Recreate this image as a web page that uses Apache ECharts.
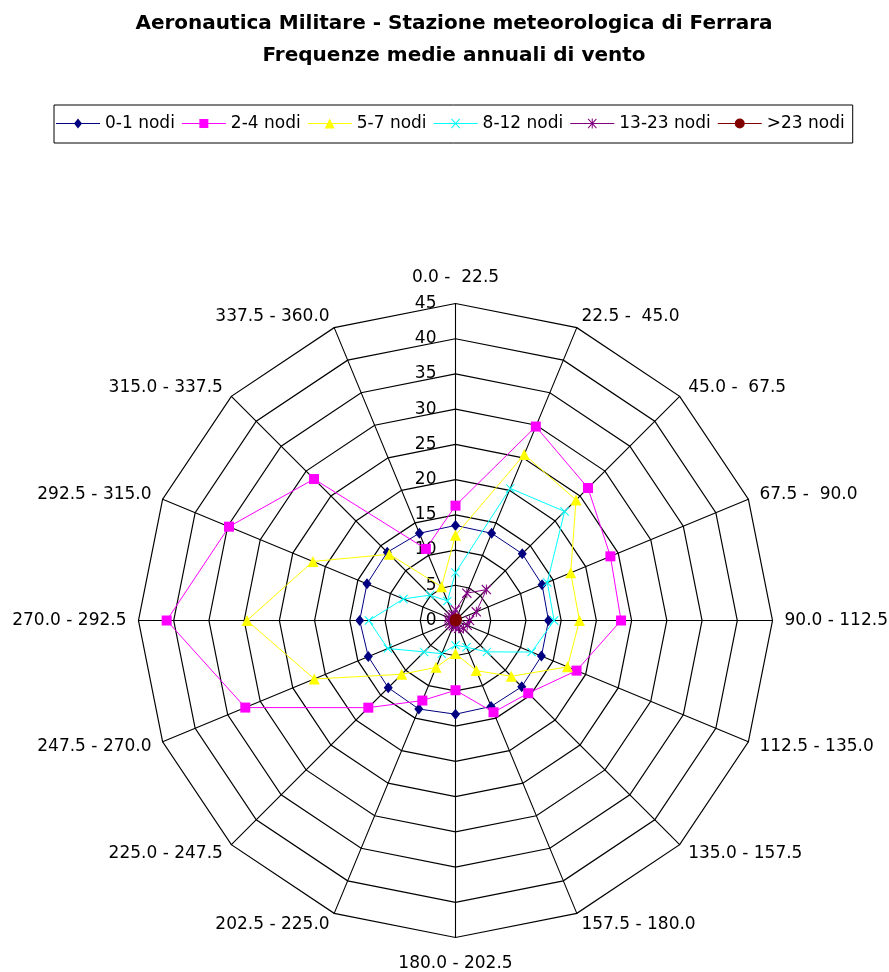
<!DOCTYPE html>
<html>
<head>
<meta charset="utf-8">
<title>Frequenze medie annuali di vento - Ferrara</title>
<script src="https://cdn.jsdelivr.net/npm/echarts@6/dist/echarts.min.js"></script>
<style>
  html, body { margin: 0; padding: 0; background: #fff; }
  #chart { width: 889px; height: 972px; }
</style>
</head>
<body>
<div id="chart"></div>
<script>
// Direction sectors (degrees), clockwise from north
const sectors = [
  '0.0 -  22.5', '22.5 -  45.0', '45.0 -  67.5', '67.5 -  90.0',
  '90.0 - 112.5', '112.5 - 135.0', '135.0 - 157.5', '157.5 - 180.0',
  '180.0 - 202.5', '202.5 - 225.0', '225.0 - 247.5', '247.5 - 270.0',
  '270.0 - 292.5', '292.5 - 315.0', '315.0 - 337.5', '337.5 - 360.0'
];

// Frequencies per wind speed class, one value per sector
const nodi0_1   = [13.5, 13.4, 13.4, 13.3, 13.2, 13.2, 13.3, 13.2, 13.3, 13.6, 13.5, 13.4, 13.6, 13.6, 13.7, 13.4];
const nodi2_4   = [16.3, 29.8, 26.6, 23.8, 23.5, 18.6, 14.6, 14.1, 9.9, 12.3, 17.5, 32.3, 41.0, 34.8, 28.4, 11.0];
const nodi5_7   = [12.1, 25.5, 24.2, 17.7, 17.6, 17.2, 11.2, 7.7, 4.7, 7.2, 10.8, 21.7, 29.6, 21.9, 13.3, 5.2];
const nodi8_12  = [6.8, 20.3, 21.9, 14.1, 14.0, 11.7, 6.3, 4.1, 3.5, 5.1, 6.3, 10.4, 12.3, 8.0, 5.1, 3.0];
const nodi13_23 = [1.5, 4.2, 6.2, 3.2, 2.0, 1.8, 1.6, 1.2, 1.0, 0.8, 0.8, 0.9, 1.0, 1.0, 0.8, 0.9];
const nodiOver23 = [0.2, 0.3, 0.3, 0.2, 0.1, 0.1, 0.1, 0.1, 0.1, 0.1, 0.1, 0.1, 0.1, 0.1, 0.1, 0.1];

const radialMax = 45;
const radialSplits = 9;

const seriesNames = ['0-1 nodi', '2-4 nodi', '5-7 nodi', '8-12 nodi', '13-23 nodi', '>23 nodi'];
const seriesValues = [nodi0_1, nodi2_4, nodi5_7, nodi8_12, nodi13_23, nodiOver23];
const seriesColors = ['#000080', '#FF00FF', '#FFFF00', '#00FFFF', '#800080', '#800000'];

// Marker shapes
const xMark = 'path://M0 0.8L0.8 0L10 9.2L9.2 10Z M9.2 0L10 0.8L0.8 10L0 9.2Z';
const starMark = 'path://M0 0.8L0.8 0L10 9.2L9.2 10Z M9.2 0L10 0.8L0.8 10L0 9.2Z M4.5 0L5.5 0L5.5 10L4.5 10Z';
const seriesSymbols = ['diamond', 'rect', 'triangle', xMark, starMark, 'circle'];
const seriesSymbolSizes = [[9, 11], 10, 11, 9, 10, 10];

// Legend keys: a short line with the marker in its middle
const keyLine = 'M0 4.5L44 4.5L44 5.5L0 5.5Z';
const legendIcons = [
  'path://' + keyLine + ' M22 0L26 5L22 10L18 5Z',
  'path://' + keyLine + ' M17.5 0.5L26.5 0.5L26.5 9.5L17.5 9.5Z M22 0L22.2 0L22.2 10L22 10Z',
  'path://' + keyLine + ' M22 0L27 10L17 10Z',
  'path://' + keyLine + ' M17.5 0.7L18.2 0L26.5 9.3L25.8 10Z M25.8 0L26.5 0.7L18.2 10L17.5 9.3Z',
  'path://' + keyLine + ' M17.5 0.7L18.2 0L26.5 9.3L25.8 10Z M25.8 0L26.5 0.7L18.2 10L17.5 9.3Z M21.5 0L22.5 0L22.5 10L21.5 10Z',
  'path://' + keyLine + ' M17 5A5 5 0 1 1 27 5A5 5 0 1 1 17 5Z'
];

// ECharts lays radar indicators out counter-clockwise; the compass runs clockwise.
const order = sectors.map((_, i) => (sectors.length - i) % sectors.length);

const FONT = 'DejaVu Sans';

const indicators = order.map((k) => {
  const ind = { name: sectors[k], max: radialMax, min: 0 };
  if (k === 0) {
    ind.nameGap = 17;
    ind.axisLabel = { show: true, color: '#000', fontSize: 17, fontFamily: FONT, margin: 19 };
  } else if (k === 8) {
    ind.nameGap = 18;
  }
  return ind;
});

const chart = echarts.init(document.getElementById('chart'), null, { renderer: 'canvas' });

chart.setOption({
  animation: false,
  backgroundColor: '#ffffff',
  title: {
    text: 'Aeronautica Militare - Stazione meteorologica di Ferrara\nFrequenze medie annuali di vento',
    left: 454,
    textAlign: 'center',
    top: 8,
    padding: 0,
    textStyle: {
      fontFamily: FONT,
      fontSize: 20,
      fontWeight: 'bold',
      color: '#000',
      lineHeight: 32
    }
  },
  legend: {
    data: seriesNames.map((n, i) => ({ name: n, icon: legendIcons[i] })),
    left: 54,
    top: 105,
    orient: 'horizontal',
    itemWidth: 44,
    itemHeight: 10,
    itemGap: 7,
    padding: [10, 8, 11, 2],
    borderColor: '#000',
    borderWidth: 1,
    textStyle: { fontFamily: FONT, fontSize: 17, color: '#000' }
  },
  radar: {
    center: [455.5, 620.5],
    radius: 317,
    startAngle: 90,
    shape: 'polygon',
    splitNumber: radialSplits,
    nameGap: 12,
    axisName: { color: '#000', fontFamily: FONT, fontSize: 17 },
    axisLine: { show: true, lineStyle: { color: '#000', width: 1.1 } },
    splitLine: { show: true, lineStyle: { color: '#000', width: 1.2 } },
    splitArea: { show: false },
    axisTick: { show: false },
    axisLabel: { show: false },
    indicator: indicators
  },
  series: seriesNames.map((n, i) => ({
    type: 'radar',
    name: n,
    symbol: seriesSymbols[i],
    symbolSize: seriesSymbolSizes[i],
    lineStyle: { color: seriesColors[i], width: 1 },
    itemStyle: { color: seriesColors[i] },
    emphasis: { disabled: true },
    data: [{ name: n, value: order.map(k => seriesValues[i][k]) }]
  }))
});
</script>
</body>
</html>
